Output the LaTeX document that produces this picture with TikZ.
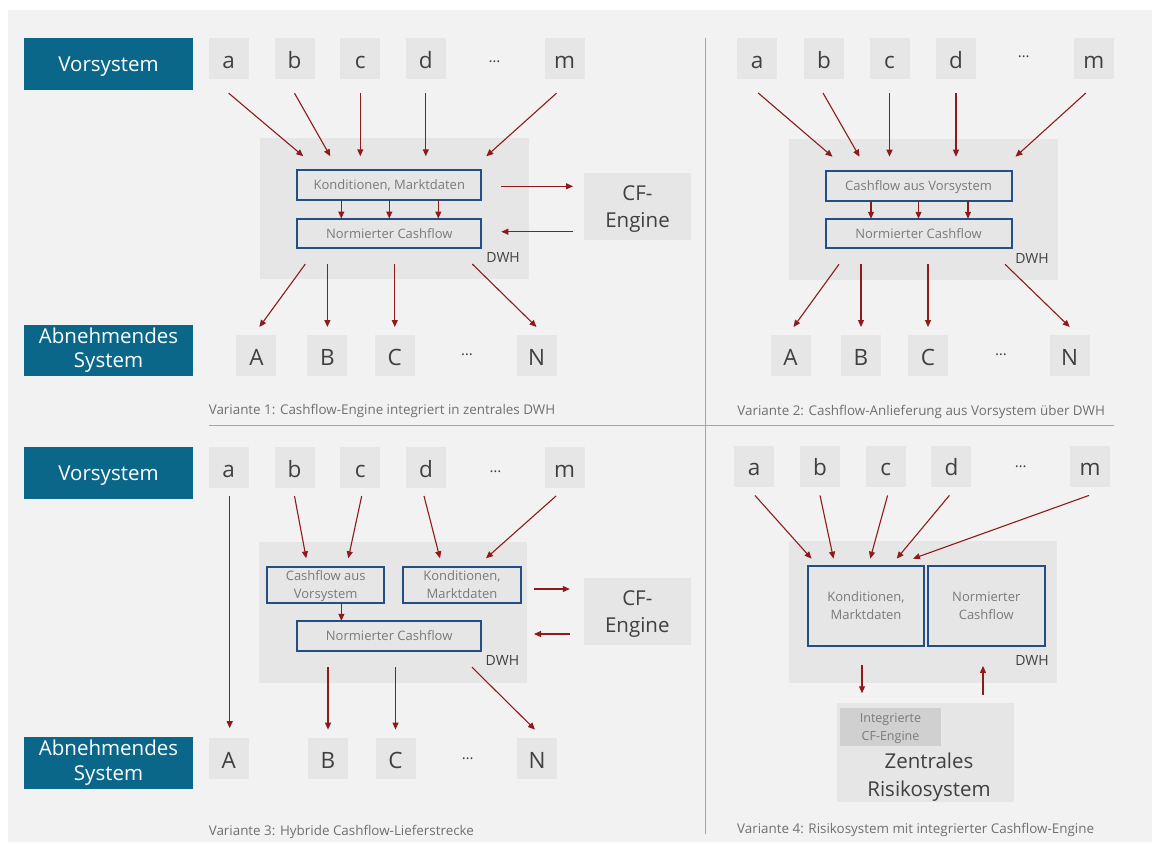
\documentclass[tikz,border=0pt]{standalone}
\usepackage{fontspec}
\setmainfont{Open Sans}
\usepackage{tikz}
\usetikzlibrary{arrows.meta, calc}
\definecolor{bgGray}{HTML}{F2F2F2}
\definecolor{boxGray}{HTML}{E6E6E6}
\definecolor{dwhGray}{HTML}{E6E6E6}
\definecolor{cfGray}{HTML}{D0D0D0}
\definecolor{sysTeal}{HTML}{0A678A}
\definecolor{storeBlue}{HTML}{234E86}
\definecolor{flowRed}{HTML}{8E1A1A}
\definecolor{darkText}{HTML}{404040}
\definecolor{lightText}{HTML}{7A7A7A}
\definecolor{capText}{HTML}{707070}
\definecolor{divBlue}{HTML}{8FA9CA}
\tikzset{
    sysbox/.style={fill=sysTeal, text=white, minimum width=169pt, minimum height=51.5pt,
        inner sep=0pt, outer sep=0pt, align=center, font=\fontsize{20.5}{24.3}\selectfont},
    srcbox/.style={fill=boxGray, text=darkText, minimum width=40pt, minimum height=41pt,
        inner sep=0pt, outer sep=0pt, text height=19pt, text depth=0pt, font=\fontsize{22.5}{26}\selectfont},
    dotsym/.style={text=darkText, inner sep=0pt, font=\fontsize{15}{18}\selectfont},
    dwhbox/.style={fill=dwhGray, inner sep=0pt, outer sep=0pt},
    store/.style={draw=storeBlue, line width=2pt, fill=dwhGray, text=lightText, inner sep=0pt,
        outer sep=0pt, align=center, text depth=0pt, font=\fontsize{13}{17.5}\selectfont},
    engine/.style={fill=boxGray, text=darkText, minimum width=107pt, minimum height=67pt,
        inner sep=0pt, outer sep=0pt, align=center, text depth=0pt, font=\fontsize{20.5}{27}\selectfont},
    dwhlabel/.style={text=darkText, inner sep=0pt, anchor=base east, font=\fontsize{14}{16}\selectfont},
    caption/.style={text=capText, inner sep=0pt, anchor=base west, font=\fontsize{13.4}{16}\selectfont},
    flow/.style={draw=flowRed, line width=1.1pt, -{Triangle[length=7pt,width=6pt]}},
    divider/.style={draw=divBlue, line width=1pt}
}
\begin{document}
\begin{tikzpicture}[x=1pt, y=-1pt]
    \useasboundingbox (0,0) rectangle (1156,844);
    \fill[white] (0,0) rectangle (1156,844);
    \fill[bgGray] (8,10) rectangle (1152,842);

    % dividing lines between the four variants
    \draw[divider] (208.6,425) -- (1114,425);
    \draw[divider] (705.3,38) -- (705.3,834);

    % ---------- Variante 1 (top left) ----------
    \node[sysbox, text depth=0pt] (vor1) at (108.5,64) {Vorsystem};
    \node[sysbox] (abn1) at (108.5,350.5) {Abnehmendes\\System};
    \foreach \n/\x in {a/228.7, b/294.5, c/360.3, d/425.8, m/564.5}
        \node[srcbox] (\n1) at (\x,58.7) {\n};
    \node[dotsym] (top1) at (494.5,61.7) {…};
    \foreach \n/\x in {A/256.4, B/327.4, C/394.8, N/536.5}
        \node[srcbox] (\n1) at (\x,355.5) {\n};
    \node[dotsym] (bot1) at (467,354.3) {…};

    \node[dwhbox, minimum width=269pt, minimum height=141.6pt] (dwh1) at (394,208.5) {};
    \node[store, minimum width=184pt, minimum height=29.5pt] (kond1) at (389.3,185) {Konditionen, Marktdaten};
    \node[store, minimum width=184pt, minimum height=29.5pt] (norm1) at (389.3,233.3) {Normierter Cashflow};
    \node[dwhlabel] (lab1) at ($(dwh1.south east)+(-8.5,-17)$) {DWH};
    \node[engine] (eng1) at (637.5,206.7) {CF-\\Engine};

    % sources into the DWH
    \draw[flow] ($(a1.south)+(0,14)$) -- ($(kond1.north)+(-86,-14)$);
    \draw[flow] ($(b1.south)+(0,14)$) -- ($(kond1.north)+(-59,-14)$);
    \draw[flow] ($(c1.south)+(0,14)$) -- ($(c1.south |- kond1.north)+(0,-14)$);
    \draw[flow] ($(d1.south)+(0,14)$) -- ($(d1.south |- kond1.north)+(0,-14)$);
    \draw[flow] ($(m1.south)+(-8,14)$) -- ($(kond1.north)+(97,-14)$);
    \foreach \dx in {-48,0,49}
        \draw[flow] ($(kond1.south)+(\dx,0)$) -- ($(norm1.north)+(\dx,0)$);
    % exchange with the CF-Engine
    \draw[flow] ($(kond1.east)+(20,1.3)$) -- ($(kond1.east -| eng1.west)+(-11,1.3)$);
    \draw[flow] ($(norm1.east -| eng1.west)+(-11,-1.6)$) -- ($(norm1.east)+(20,-1.6)$);
    % DWH to the receiving systems
    \draw[flow] ($(norm1.south)+(-84,16)$) -- ($(A1.north)+(3,-8)$);
    \draw[flow] ($(B1.north |- norm1.south)+(0,16)$) -- ($(B1.north)+(0,-8)$);
    \draw[flow] ($(C1.north |- norm1.south)+(0,16)$) -- ($(C1.north)+(0,-8)$);
    \draw[flow] ($(norm1.south)+(83,16)$) -- ($(N1.north)+(0,-8)$);
    \node[caption] (cap1) at (208.6,414.5) {Variante 1: Cashflow-Engine integriert in zentrales DWH};

    % ---------- Variante 2 (top right) ----------
    \foreach \n/\x in {a/757.2, b/824, c/889.5, d/956, m/1093.8}
        \node[srcbox] (\n2) at (\x,58.5) {\n};
    \node[dotsym] (top2) at (1023.8,56.7) {…};
    \foreach \n/\x in {A/790.5, B/861, C/928, N/1069.7}
        \node[srcbox] (\n2) at (\x,355.5) {\n};
    \node[dotsym] (bot2) at (1001,354.3) {…};

    \node[dwhbox, minimum width=269pt, minimum height=141pt] (dwh2) at (923.2,209.5) {};
    \node[store, minimum width=186pt, minimum height=30pt] (cfv2) at (918.5,185.7) {Cashflow aus Vorsystem};
    \node[store, minimum width=186pt, minimum height=29.5pt] (norm2) at (918.5,233.5) {Normierter Cashflow};
    \node[dwhlabel] (lab2) at ($(dwh2.south east)+(-8.8,-16.7)$) {DWH};

    \draw[flow] ($(a2.south)+(1,14)$) -- ($(cfv2.north)+(-86,-14)$);
    \draw[flow] ($(b2.south)+(-1,14)$) -- ($(cfv2.north)+(-59,-14)$);
    \draw[flow] ($(c2.south)+(0,14)$) -- ($(c2.south |- cfv2.north)+(0,-14)$);
    \draw[flow] ($(d2.south)+(0,14)$) -- ($(d2.south |- cfv2.north)+(0,-14)$);
    \draw[flow] ($(m2.south)+(-8,14)$) -- ($(cfv2.north)+(97,-14)$);
    \foreach \dx in {-47.5,0,49.5}
        \draw[flow] ($(cfv2.south)+(\dx,0)$) -- ($(norm2.north)+(\dx,0)$);
    \draw[flow] ($(norm2.south)+(-79.5,16)$) -- ($(A2.north)+(3,-8)$);
    \draw[flow] ($(B2.north |- norm2.south)+(0,16)$) -- ($(B2.north)+(0,-8)$);
    \draw[flow] ($(C2.north |- norm2.south)+(0,16)$) -- ($(C2.north)+(0,-8)$);
    \draw[flow] ($(norm2.south)+(86.5,16)$) -- ($(N2.north)+(0,-8)$);
    \node[caption] (cap2) at (737.2,415) {Variante 2: Cashflow-Anlieferung aus Vorsystem über DWH};

    % ---------- Variante 3 (bottom left) ----------
    \node[sysbox, text depth=0pt] (vor3) at (108.5,472.8) {Vorsystem};
    \node[sysbox] (abn3) at (108.5,762.8) {Abnehmendes\\System};
    \foreach \n/\x in {a/228.7, b/294.5, c/360.3, d/426, m/564.5}
        \node[srcbox] (\n3) at (\x,467.5) {\n};
    \node[dotsym] (top3) at (495.6,471.7) {…};
    \foreach \n/\x in {A/228.7, B/328, C/395.5, N/537}
        \node[srcbox] (\n3) at (\x,758.7) {\n};
    \node[dotsym] (bot3) at (467.7,758.3) {…};

    \node[dwhbox, minimum width=268pt, minimum height=141pt] (dwh3) at (393,612.2) {};
    \node[store, minimum width=117pt, minimum height=36pt] (cfv3) at (325.7,584.7) {Cashflow aus\\Vorsystem};
    \node[store, minimum width=118pt, minimum height=36pt] (kond3) at (462,584.7) {Konditionen,\\Marktdaten};
    \node[store, minimum width=184pt, minimum height=30pt] (norm3) at (389.2,635.8) {Normierter Cashflow};
    \node[dwhlabel] (lab3) at ($(dwh3.south east)+(-7.7,-17.4)$) {DWH};
    \node[engine] (eng3) at (637.3,611.3) {CF-\\Engine};

    \draw[flow] ($(a3.south)+(1,8)$) -- ($(A3.north)+(1,-10)$);
    \draw[flow] ($(b3.south)+(0,8)$) -- ($(cfv3.north)+(-19.5,-8.4)$);
    \draw[flow] ($(c3.south)+(1.4,8)$) -- ($(cfv3.north)+(22.6,-8.4)$);
    \draw[flow] ($(d3.south)+(-2,8)$) -- ($(kond3.north)+(-22,-8.4)$);
    \draw[flow] ($(m3.south)+(-8.5,8)$) -- ($(kond3.north)+(24,-8.4)$);
    \draw[flow] ($(cfv3.south)+(15.7,0)$) -- ($(norm3.north -| cfv3.south)+(15.7,0)$);
    \draw[flow] ($(kond3.east)+(13,4.3)$) -- ($(kond3.east -| eng3.west)+(-14,4.3)$);
    \draw[flow] ($(norm3.east -| eng3.west)+(-14,-1.8)$) -- ($(norm3.east -| kond3.east)+(13,-1.8)$);
    \draw[flow] ($(B3.north |- norm3.south)+(0,16.3)$) -- ($(B3.north)+(0,-8.6)$);
    \draw[flow] ($(C3.north |- norm3.south)+(0,16.3)$) -- ($(C3.north)+(0,-8.6)$);
    \draw[flow] ($(norm3.south)+(82.7,16.3)$) -- ($(N3.north)+(-2,-8.6)$);
    \node[caption] (cap3) at (208.6,835) {Variante 3: Hybride Cashflow-Lieferstrecke};

    % ---------- Variante 4 (bottom right) ----------
    \foreach \n/\x in {a/754.2, b/820, c/885.6, d/951.4, m/1090}
        \node[srcbox] (\n4) at (\x,466.3) {\n};
    \node[dotsym] (top4) at (1020.8,466.7) {…};

    \node[dwhbox, minimum width=268pt, minimum height=141.7pt] (dwh4) at (922.6,611.8) {};
    \node[store, minimum width=116.4pt, minimum height=79.7pt] (kond4) at (866,605.8) {Konditionen,\\Marktdaten};
    \node[store, minimum width=116.8pt, minimum height=79.7pt] (norm4) at (986.3,605.8) {Normierter\\Cashflow};
    \node[dwhlabel] (lab4) at ($(dwh4.south east)+(-7.7,-17.4)$) {DWH};

    \node[dwhbox, fill=boxGray, minimum width=176.3pt, minimum height=99.3pt] (risk) at (925.4,752.3) {};
    \node[store, draw=none, fill=cfGray, line width=0pt, font=\fontsize{12.5}{18}\selectfont,
        minimum width=100.7pt, minimum height=37.7pt] (cfint) at (890.5,726.8) {Integrierte\\CF-Engine};
    \node[engine, fill=none, minimum width=0pt, minimum height=0pt, anchor=south,
        font=\fontsize{20.5}{27.7}\selectfont] (risklbl) at (929,796) {Zentrales\\Risikosystem};

    \draw[flow] ($(a4.south)+(0.7,8.6)$) -- ($(kond4.north)+(-54.5,-7.3)$);
    \draw[flow] ($(b4.south)+(0,8.6)$) -- ($(kond4.north)+(-32.5,-7.3)$);
    \draw[flow] ($(c4.south)+(2,8.6)$) -- ($(kond4.north)+(4.2,-7.3)$);
    \draw[flow] ($(d4.south)+(-2,8.6)$) -- ($(kond4.north)+(30.7,-7.3)$);
    \draw[flow] ($(m4.south)+(-1,8.6)$) -- ($(kond4.north)+(47,-7.3)$);
    \draw[flow] ($(kond4.south)+(-4,19.3)$) -- ($(kond4.south |- risk.north)+(-4,-9.4)$);
    \draw[flow] ($(norm4.south |- risk.north)+(-3.3,-7.7)$) -- ($(norm4.south)+(-3.3,20.3)$);
    \node[caption] (cap4) at (737,833.3) {Variante 4: Risikosystem mit integrierter Cashflow-Engine};
\end{tikzpicture}
\end{document}
